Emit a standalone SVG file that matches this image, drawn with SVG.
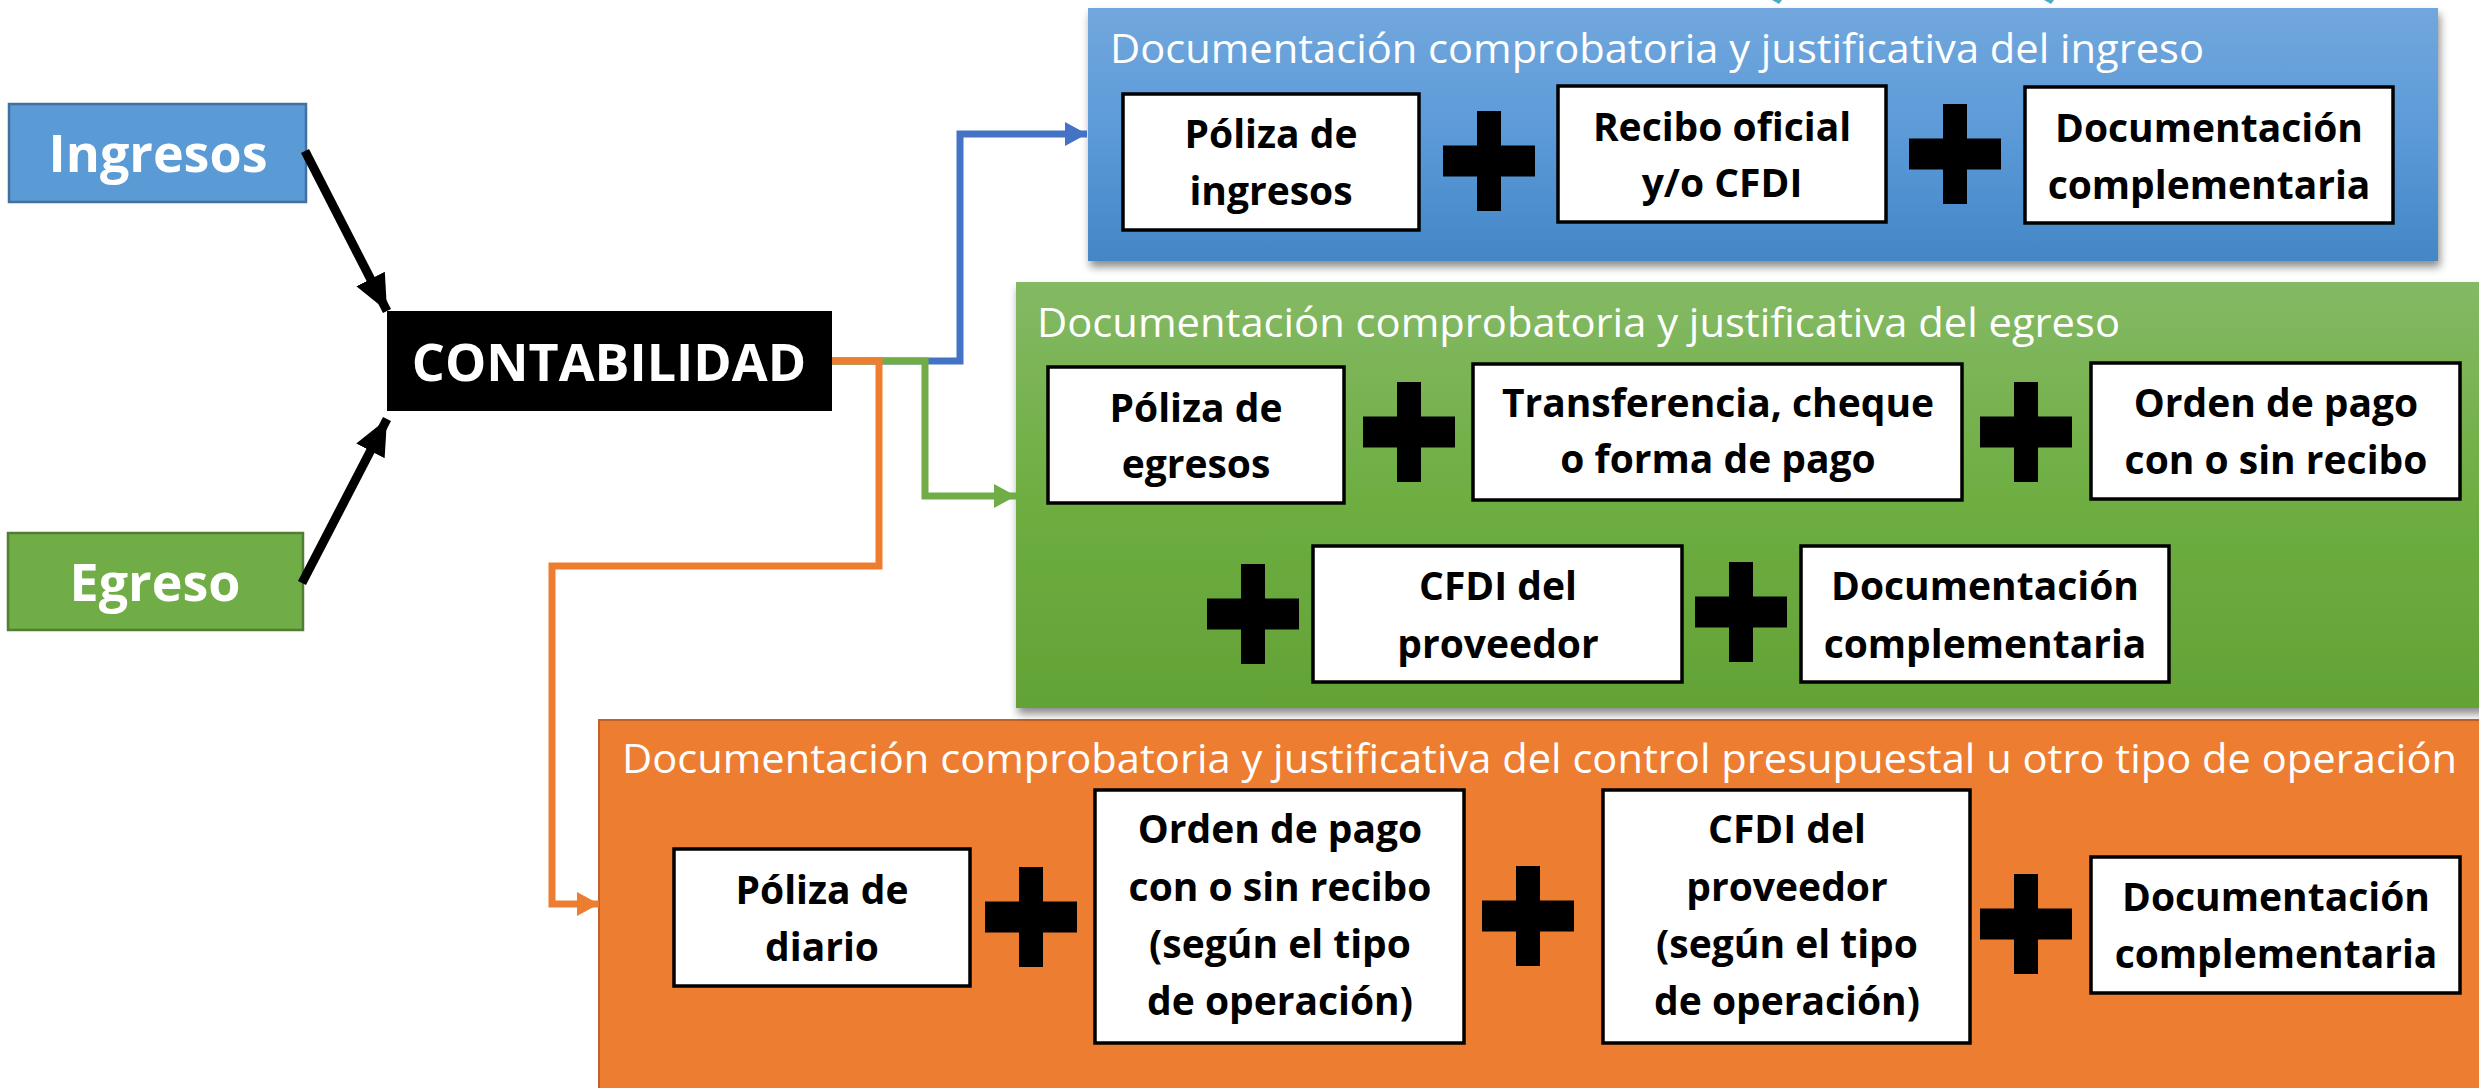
<svg xmlns="http://www.w3.org/2000/svg" xmlns:xlink="http://www.w3.org/1999/xlink" width="2479" height="1088" viewBox="0 0 2479 1088">
<defs>
<style>
.lbl{font-family:"Open Sans","Liberation Sans",sans-serif;font-weight:bold;fill:#fff;text-anchor:middle}
.ttl{font-family:"Open Sans","Liberation Sans",sans-serif;font-size:40px;fill:#fff}
.bx{fill:#fff;stroke:#000;stroke-width:3.5}
.bt{font-family:"Open Sans","Liberation Sans",sans-serif;font-weight:bold;font-size:39px;fill:#000;text-anchor:middle}
.con{fill:none;stroke-width:7;stroke-linejoin:miter}
</style>
<linearGradient id="gBlue" x1="0" y1="0" x2="0" y2="1"><stop offset="0" stop-color="#72a7dd"/><stop offset="0.5" stop-color="#5b9ad8"/><stop offset="1" stop-color="#4486c6"/></linearGradient>
<linearGradient id="gGreen" x1="0" y1="0" x2="0" y2="1"><stop offset="0" stop-color="#84b965"/><stop offset="0.5" stop-color="#6eae42"/><stop offset="1" stop-color="#63a236"/></linearGradient>
<filter id="sh" x="-5%" y="-10%" width="110%" height="125%"><feDropShadow dx="2" dy="6" stdDeviation="4" flood-color="#000" flood-opacity="0.45"/></filter>
<g id="plus"><rect x="-12" y="-50" width="24" height="100" fill="#000"/><rect x="-46" y="-15.5" width="92" height="31" fill="#000"/></g>
<marker id="aK" markerUnits="userSpaceOnUse" markerWidth="40" markerHeight="40" viewBox="0 0 40 40" refX="36" refY="20" orient="auto"><path d="M0,4 L36,20 L0,36 z" fill="#000"/></marker>
<marker id="aB" markerUnits="userSpaceOnUse" markerWidth="24" markerHeight="24" viewBox="0 0 24 24" refX="22" refY="12" orient="auto"><path d="M0,0 L22,12 L0,24 z" fill="#4472c4"/></marker>
<marker id="aG" markerUnits="userSpaceOnUse" markerWidth="24" markerHeight="24" viewBox="0 0 24 24" refX="22" refY="12" orient="auto"><path d="M0,0 L22,12 L0,24 z" fill="#70ad47"/></marker>
<marker id="aO" markerUnits="userSpaceOnUse" markerWidth="24" markerHeight="24" viewBox="0 0 24 24" refX="22" refY="12" orient="auto"><path d="M0,0 L22,12 L0,24 z" fill="#ed7d31"/></marker>
</defs>
<rect width="2479" height="1088" fill="#fff"/>

<!-- cut-off marks at top -->
<path d="M1772,0 L1782,0 L1779,4 z" fill="#4bacc6"/>
<path d="M2044,0 L2054,0 L2051,4 z" fill="#4bacc6"/>

<g id="ingresos">
<rect x="9" y="104" width="297" height="98" fill="#5b9bd5" stroke="#41719c" stroke-width="2.5"/>
<text class="lbl" x="158" y="172" font-size="52">Ingresos</text>
</g>
<g id="egreso">
<rect x="8" y="533" width="295" height="97" fill="#70ad47" stroke="#507e32" stroke-width="2.5"/>
<text class="lbl" x="155" y="601" font-size="52">Egreso</text>
</g>
<g id="contabilidad">
<rect x="387" y="311" width="445" height="100" fill="#000"/>
<text class="lbl" x="609" y="381" font-size="52">CONTABILIDAD</text>
</g>

<g id="orange-panel">
<rect x="599" y="720" width="1895" height="375" fill="#ed7d31" stroke="#c0622a" stroke-width="2"/>
<text class="ttl" x="622" y="773" textLength="1835" lengthAdjust="spacingAndGlyphs">Documentación comprobatoria y justificativa del control presupuestal u otro tipo de operación</text>
<g id="o1"><rect class="bx" x="674" y="849" width="296" height="137"/><text class="bt" x="822" y="904">Póliza de</text><text class="bt" x="822" y="961">diario</text></g>
<use href="#plus" x="1031" y="917"/>
<g id="o2"><rect class="bx" x="1095" y="790" width="369" height="253"/><text class="bt" x="1280" y="843">Orden de pago</text><text class="bt" x="1280" y="901">con o sin recibo</text><text class="bt" x="1280" y="958">(según el tipo</text><text class="bt" x="1280" y="1015">de operación)</text></g>
<use href="#plus" x="1528" y="916"/>
<g id="o3"><rect class="bx" x="1603" y="790" width="367" height="253"/><text class="bt" x="1787" y="843">CFDI del</text><text class="bt" x="1787" y="901">proveedor</text><text class="bt" x="1787" y="958">(según el tipo</text><text class="bt" x="1787" y="1015">de operación)</text></g>
<use href="#plus" x="2026" y="924"/>
<g id="o4"><rect class="bx" x="2091" y="857" width="369" height="136"/><text class="bt" x="2276" y="911">Documentación</text><text class="bt" x="2276" y="968">complementaria</text></g>
</g>

<g id="green-panel">
<rect x="1016" y="282" width="1480" height="426" fill="url(#gGreen)" filter="url(#sh)"/>
<text class="ttl" x="1037" y="337" textLength="1083" lengthAdjust="spacingAndGlyphs">Documentación comprobatoria y justificativa del egreso</text>
<g id="g1"><rect class="bx" x="1048" y="367" width="296" height="136"/><text class="bt" x="1196" y="422">Póliza de</text><text class="bt" x="1196" y="478">egresos</text></g>
<use href="#plus" x="1409" y="432"/>
<g id="g2"><rect class="bx" x="1473" y="364" width="489" height="136"/><text class="bt" x="1718" y="417">Transferencia, cheque</text><text class="bt" x="1718" y="473">o forma de pago</text></g>
<use href="#plus" x="2026" y="432"/>
<g id="g3"><rect class="bx" x="2091" y="363" width="369" height="136"/><text class="bt" x="2276" y="417">Orden de pago</text><text class="bt" x="2276" y="474">con o sin recibo</text></g>
<use href="#plus" x="1253" y="614"/>
<g id="g4"><rect class="bx" x="1313" y="546" width="369" height="136"/><text class="bt" x="1498" y="600">CFDI del</text><text class="bt" x="1498" y="658">proveedor</text></g>
<use href="#plus" x="1741" y="612"/>
<g id="g5"><rect class="bx" x="1801" y="546" width="368" height="136"/><text class="bt" x="1985" y="600">Documentación</text><text class="bt" x="1985" y="658">complementaria</text></g>
</g>

<g id="blue-panel">
<rect x="1088" y="8" width="1350" height="253" fill="url(#gBlue)" filter="url(#sh)"/>
<text class="ttl" x="1110" y="63" textLength="1094" lengthAdjust="spacingAndGlyphs">Documentación comprobatoria y justificativa del ingreso</text>
<g id="b1"><rect class="bx" x="1123" y="94" width="296" height="136"/><text class="bt" x="1271" y="148">Póliza de</text><text class="bt" x="1271" y="205">ingresos</text></g>
<use href="#plus" x="1489" y="161"/>
<g id="b2"><rect class="bx" x="1558" y="86" width="328" height="136"/><text class="bt" x="1722" y="141">Recibo oficial</text><text class="bt" x="1722" y="197">y/o CFDI</text></g>
<use href="#plus" x="1955" y="154"/>
<g id="b3"><rect class="bx" x="2025" y="87" width="368" height="136"/><text class="bt" x="2209" y="142">Documentación</text><text class="bt" x="2209" y="199">complementaria</text></g>
</g>

<g id="connectors">
<line x1="305" y1="151" x2="387" y2="311" stroke="#000" stroke-width="9" marker-end="url(#aK)"/>
<line x1="302" y1="583" x2="387" y2="419" stroke="#000" stroke-width="9" marker-end="url(#aK)"/>
<path class="con" stroke="#4472c4" d="M832,361 H960 V134 H1087" marker-end="url(#aB)"/>
<path class="con" stroke="#70ad47" d="M832,361 H925 V496 H1016" marker-end="url(#aG)"/>
<path class="con" stroke="#ed7d31" d="M832,361 H879 V566 H552 V904 H599" marker-end="url(#aO)"/>
</g>
</svg>
